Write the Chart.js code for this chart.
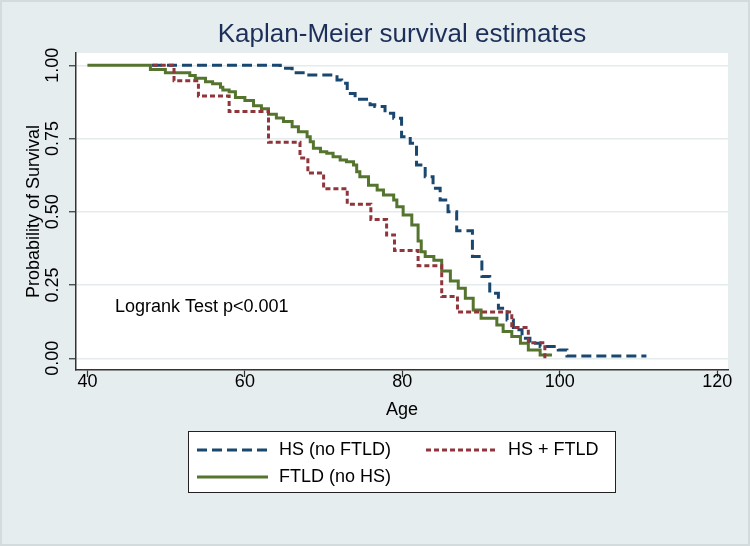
<!DOCTYPE html>
<html>
<head>
<meta charset="utf-8">
<script src="https://cdn.jsdelivr.net/npm/chart.js@4.4.1/dist/chart.umd.min.js"></script>
<style>
  html, body { margin: 0; padding: 0; background: #e6edee; }
  canvas { display: block; }
</style>
</head>
<body>
<canvas id="kmChart" width="750" height="546"></canvas>
<script>
// Kaplan-Meier step values (age at step, survival after step)
const hsAges = [48.2, 64.5, 66.0, 67.9, 71.7, 72.3, 73.0, 74.0, 75.9, 76.5, 77.8, 78.9, 79.9, 81.0, 81.8,
  82.9, 83.9, 84.8, 85.8, 86.9, 88.9, 90.1, 91.1, 92.2, 93.3, 94.1, 95.2, 96.2, 97.5, 99.8, 100.9, 111.0];
const hsSurv = [1.0, 0.99, 0.975, 0.967, 0.95, 0.939, 0.904, 0.884, 0.865, 0.859, 0.836, 0.819, 0.756, 0.734, 0.66,
  0.62, 0.58, 0.54, 0.5, 0.435, 0.347, 0.279, 0.222, 0.171, 0.131, 0.097, 0.068, 0.051, 0.04, 0.028, 0.008, 0.008];

const bothAges = [48.3, 51.0, 54.1, 58.0, 63.0, 67.0, 68.0, 70.0, 73.0, 76.0, 78.0, 79.0, 82.0, 85.0, 87.0, 93.9, 96.0, 98.1];
const bothSurv = [1.0, 0.947, 0.895, 0.842, 0.737, 0.684, 0.632, 0.579, 0.526, 0.474, 0.421, 0.368, 0.316, 0.211, 0.158, 0.105, 0.053, 0.0];

const ftldAges = [40.0, 48.0, 49.9, 53.0, 53.7, 55.0, 55.9, 56.9, 57.2, 58.0, 58.8, 60.0, 61.1, 62.1, 63.0, 64.0,
  64.9, 66.0, 66.8, 67.9, 68.3, 68.7, 69.6, 70.4, 71.2, 72.1, 72.9, 73.8, 74.2, 74.6, 75.7, 76.8, 77.6, 78.9,
  79.3, 80.1, 81.2, 82.0, 82.4, 82.9, 84.0, 85.0, 86.1, 87.1, 88.0, 89.0, 90.0, 92.0, 92.8, 93.9, 95.0, 96.0, 97.5, 99.0];
const ftldSurv = [1.0, 0.986, 0.975, 0.965, 0.956, 0.944, 0.937, 0.925, 0.916, 0.91, 0.89, 0.88, 0.862, 0.852, 0.833, 0.82,
  0.808, 0.79, 0.773, 0.756, 0.739, 0.717, 0.705, 0.70, 0.688, 0.677, 0.671, 0.66, 0.637, 0.62, 0.591, 0.574, 0.557, 0.54,
  0.517, 0.489, 0.455, 0.40, 0.364, 0.347, 0.335, 0.298, 0.264, 0.239, 0.205, 0.165, 0.137, 0.114, 0.091, 0.074, 0.051, 0.028, 0.011, 0.011];

const seriesNames = ["HS (no FTLD)", "HS + FTLD", "FTLD (no HS)"];
const xTicks = [40, 60, 80, 100, 120];
const yTicks = [0, 0.25, 0.5, 0.75, 1];

const FONT = "'Liberation Sans', Arial, sans-serif";
const colors = { hs: "#1a476f", both: "#90353b", ftld: "#55752f" };

function toPoints(ages, surv) {
  return ages.map((a, i) => ({ x: a, y: surv[i] }));
}

const bgPlugin = {
  id: "bg",
  beforeDraw(chart) {
    const { ctx, chartArea: a } = chart;
    ctx.save();
    ctx.fillStyle = "#e6edee";
    ctx.fillRect(0, 0, chart.width, chart.height);
    ctx.strokeStyle = "#d3dbdd";
    ctx.lineWidth = 2;
    ctx.strokeRect(1, 1, chart.width - 2, chart.height - 2);
    ctx.fillStyle = "#ffffff";
    ctx.fillRect(a.left, a.top, a.right - a.left, a.bottom - a.top);
    ctx.restore();
  }
};

const textPlugin = {
  id: "texts",
  afterDraw(chart) {
    const { ctx, chartArea: a } = chart;
    const xs = chart.scales.x, ys = chart.scales.y;
    ctx.save();
    // title, centred over the plot region
    ctx.fillStyle = "#1c2f5a";
    ctx.font = "26px " + FONT;
    ctx.textAlign = "center";
    ctx.textBaseline = "middle";
    ctx.fillText("Kaplan-Meier survival estimates", (a.left + a.right) / 2, 35);

    // logrank note
    ctx.fillStyle = "#000";
    ctx.font = "18px " + FONT;
    ctx.textAlign = "left";
    ctx.fillText("Logrank Test p<0.001", xs.getPixelForValue(43.5), ys.getPixelForValue(0.175));

    // legend box
    const bx = 188.5, by = 431.5, bw = 427, bh = 61;
    ctx.fillStyle = "#fff";
    ctx.fillRect(bx, by, bw, bh);
    ctx.strokeStyle = "#222";
    ctx.lineWidth = 1;
    ctx.strokeRect(bx, by, bw, bh);
    const items = [
      { ds: 0, x: 197, y: 450 },
      { ds: 1, x: 426, y: 450 },
      { ds: 2, x: 197, y: 477 }
    ];
    items.forEach(it => {
      const d = chart.data.datasets[it.ds];
      ctx.beginPath();
      ctx.strokeStyle = d.borderColor;
      ctx.lineWidth = d.borderWidth;
      ctx.setLineDash(d.borderDash || []);
      ctx.moveTo(it.x, it.y);
      ctx.lineTo(it.x + 71, it.y);
      ctx.stroke();
      ctx.setLineDash([]);
      ctx.fillStyle = "#000";
      ctx.textAlign = "left";
      ctx.textBaseline = "middle";
      ctx.fillText(d.label, it.x + 82, it.y);
    });
    ctx.restore();
  }
};

new Chart(document.getElementById("kmChart"), {
  type: "line",
  data: {
    datasets: [
      {
        label: seriesNames[0],
        data: toPoints(hsAges, hsSurv),
        borderColor: colors.hs,
        borderWidth: 3,
        borderDash: [10, 5],
        order: 2
      },
      {
        label: seriesNames[1],
        data: toPoints(bothAges, bothSurv),
        borderColor: colors.both,
        borderWidth: 3,
        borderDash: [5, 3],
        order: 1
      },
      {
        label: seriesNames[2],
        data: toPoints(ftldAges, ftldSurv),
        borderColor: colors.ftld,
        borderWidth: 3,
        order: 3
      }
    ]
  },
  options: {
    responsive: false,
    animation: false,
    devicePixelRatio: 1,
    layout: { padding: { top: 53, right: 22, bottom: 125, left: 0 } },
    elements: {
      point: { radius: 0, hoverRadius: 0 },
      line: { stepped: "before", fill: false, tension: 0, borderCapStyle: "butt" }
    },
    plugins: {
      legend: { display: false },
      title: { display: false },
      tooltip: { enabled: false }
    },
    scales: {
      x: {
        type: "linear",
        min: 38.55,
        max: 121.36,
        afterBuildTicks: s => { s.ticks = xTicks.map(v => ({ value: v })); },
        afterFit: s => { s.height = 51; },
        grid: { drawOnChartArea: false, tickLength: 7, tickColor: "#333", tickWidth: 1.2 },
        border: { color: "#333", width: 1.5 },
        ticks: { color: "#000", font: { family: FONT, size: 18, lineHeight: 1 }, padding: -4, maxRotation: 0 },
        title: { display: true, text: "Age", color: "#000", font: { family: FONT, size: 18 }, padding: { top: 0, bottom: 0 } }
      },
      y: {
        min: -0.04,
        max: 1.042,
        afterBuildTicks: s => { s.ticks = yTicks.map(v => ({ value: v })); },
        afterFit: s => { s.width = 76; },
        grid: { color: "#e4ebec", lineWidth: 1.5, tickLength: 7, tickColor: "#333", tickWidth: 1.2 },
        border: { color: "#333", width: 1.5 },
        ticks: {
          color: "#000",
          font: { family: FONT, size: 18 },
          minRotation: 90,
          maxRotation: 90,
          crossAlign: "center",
          padding: -2,
          callback: v => v.toFixed(2)
        },
        title: { display: true, text: "Probability of Survival", color: "#000", font: { family: FONT, size: 18 }, padding: { top: 23, bottom: 0 } }
      }
    }
  },
  plugins: [bgPlugin, textPlugin]
});
</script>
</body>
</html>
